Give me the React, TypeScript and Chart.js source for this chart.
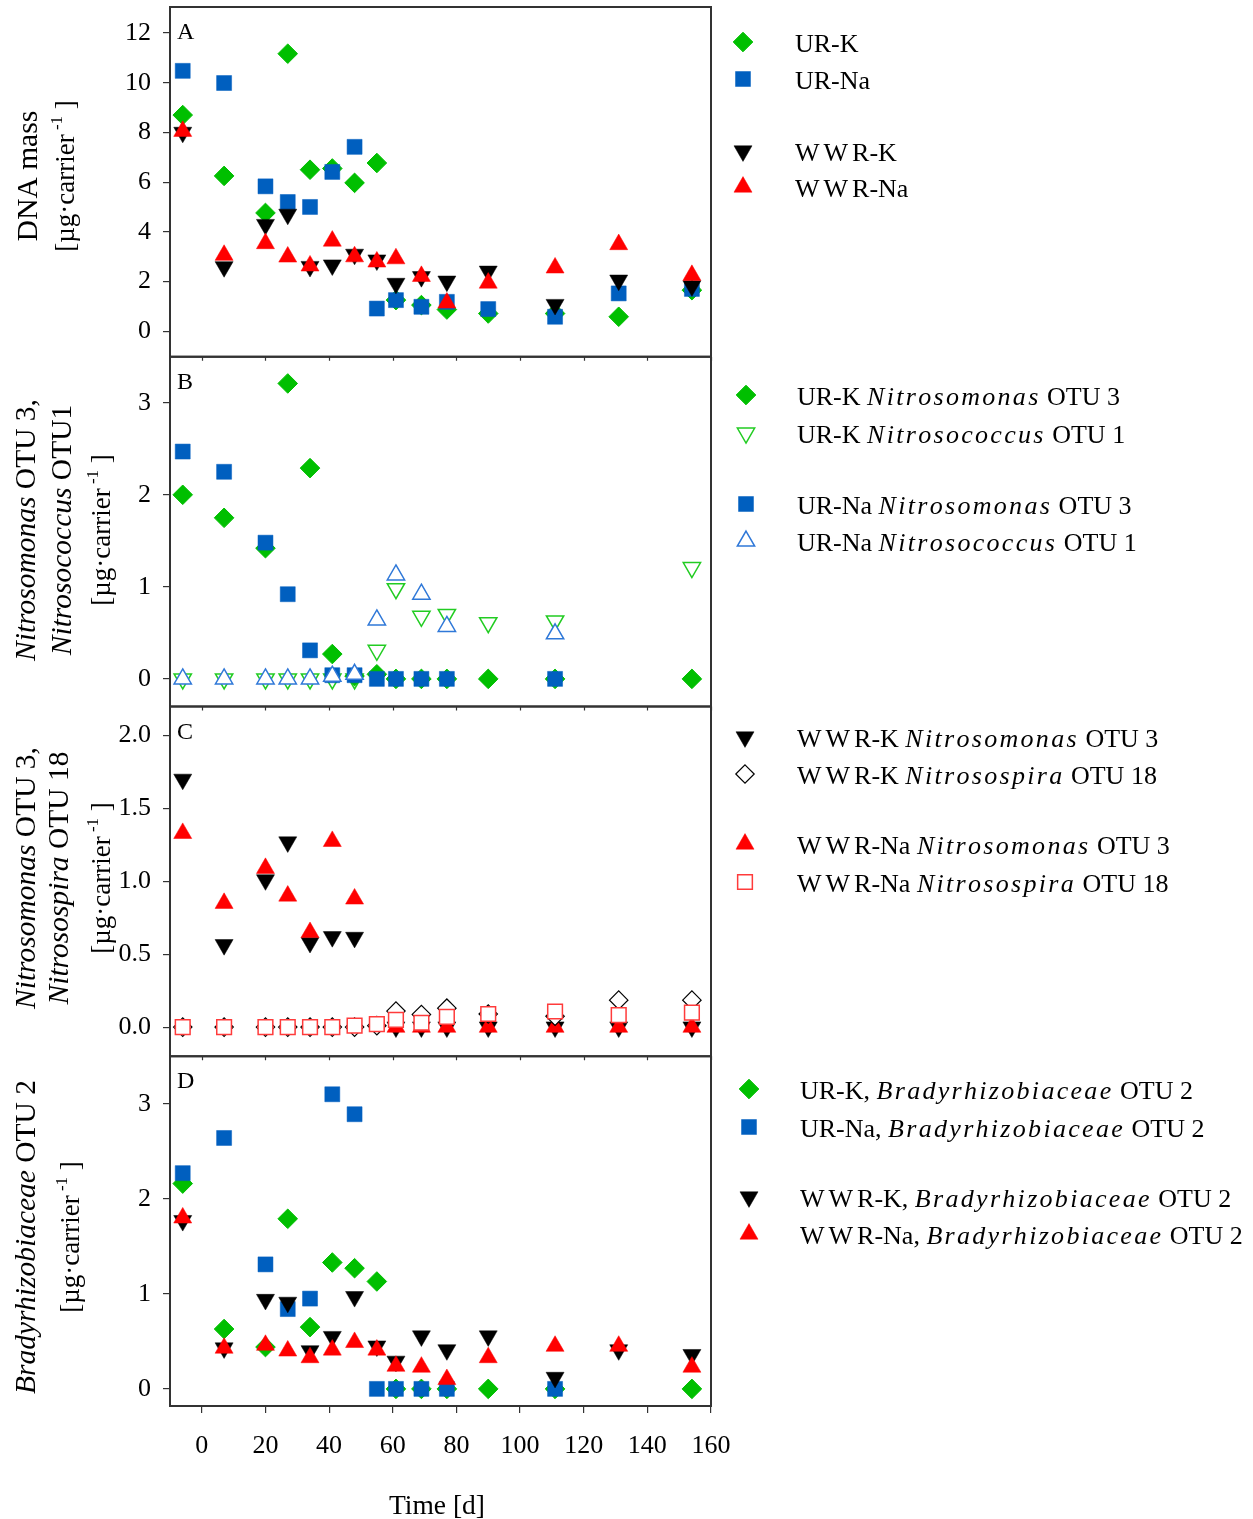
import React, { useEffect, useRef } from 'react';
import { Chart, registerables } from 'chart.js';

Chart.register(...registerables);

const W = 1253;
const H = 1519;
const FONT = '"Liberation Serif", "Times New Roman", Times, serif';
const AXIS = '#333333';
const GREEN = '#00bf00';
const BLUE = '#005fbf';
const RED = '#ff0000';
const BLACK = '#000000';
const LGREEN = '#22cc22';
const LBLUE = '#2f78d8';
const LRED = '#ff3b3b';

// ---------- data ----------
const X_TICKS = [0, 20, 40, 60, 80, 100, 120, 140, 160];
const DAYS = [-6, 7, 20, 27, 34, 41, 48, 55, 61, 69, 77, 90, 111, 131, 154];

// Panel A: DNA mass
const A_UR_K = [8.7, 6.25, 4.76, 11.17, 6.5, 6.55, 5.97, 6.77, 1.25, 1.05, 0.87, 0.71, 0.71, 0.58, 1.65];
const A_UR_NA = [10.48, 9.99, 5.83, 5.2, 5.0, 6.41, 7.42, 0.91, 1.25, 0.98, 1.18, 0.89, 0.58, 1.52, 1.7];
const A_WWR_K = [8.0, 2.59, 4.29, 4.7, 2.6, 2.66, 3.09, 2.86, 1.92, 2.19, 2.01, 2.41, 1.07, 2.05, 1.82];
const A_WWR_NA = [8.05, 3.06, 3.53, 2.99, 2.63, 3.63, 3.0, 2.79, 2.92, 2.21, 1.14, 1.94, 2.55, 3.49, 2.25];

// Panel B: UR Nitrosomonas OTU 3 / Nitrosococcus OTU 1
const B_UR_K_NSM = [2.0, 1.75, 1.42, 3.21, 2.29, 0.27, 0.03, 0.05, 0, 0, 0, 0, 0, null, 0];
const B_UR_NA_NSM = [2.47, 2.25, 1.48, 0.92, 0.31, 0.04, 0.04, 0, 0, 0, 0, null, 0, null, null];
const B_UR_K_NCC = [0, 0, 0, 0, 0, 0, 0, 0.31, 0.98, 0.68, 0.7, 0.61, 0.63, null, 1.21];
const B_UR_NA_NCC = [0, 0, 0, 0, 0, 0.03, 0.05, 0.64, 1.13, 0.92, 0.57, null, 0.49, null, null];

// Panel C: WWR Nitrosomonas OTU 3 / Nitrosospira OTU 18
const C_WWR_K_NSM = [1.7, 0.565, 1.01, 1.27, 0.58, 0.62, 0.615, null, 0, 0, 0, 0, 0, 0, 0];
const C_WWR_NA_NSM = [1.33, 0.85, 1.09, 0.9, 0.65, 1.275, 0.88, null, 0, 0, 0, 0, 0, 0, 0];
const C_WWR_K_NSP = [0, 0, 0, 0, 0, 0, 0, 0.01, 0.11, 0.087, 0.13, 0.09, 0.075, 0.185, 0.185];
const C_WWR_NA_NSP = [0, 0, 0, 0, 0, 0, 0.01, 0.02, 0.05, 0.03, 0.07, 0.09, 0.107, 0.082, 0.1];

// Panel D: Bradyrhizobiaceae OTU 2
const D_UR_K = [2.16, 0.63, 0.44, 1.79, 0.65, 1.33, 1.27, 1.13, 0, 0, 0, 0, 0, null, 0];
const D_UR_NA = [2.27, 2.64, 1.31, 0.84, 0.95, 3.1, 2.89, 0, 0, 0, 0, null, 0, null, null];
const D_WWR_K = [1.77, 0.43, 0.94, 0.91, 0.4, 0.55, 0.97, 0.45, 0.29, 0.556, 0.41, 0.556, 0.12, 0.41, 0.36];
const D_WWR_NA = [1.8, 0.43, 0.46, 0.4, 0.33, 0.41, 0.49, 0.41, 0.24, 0.23, 0.1, 0.33, 0.45, 0.45, 0.23];

const A_TICKS = [0, 2, 4, 6, 8, 10, 12];
const A_TICK_LABELS = ['0', '2', '4', '6', '8', '10', '12'];
const B_TICKS = [0, 1, 2, 3];
const B_TICK_LABELS = ['0', '1', '2', '3'];
const C_TICKS = [0, 0.5, 1, 1.5, 2];
const C_TICK_LABELS = ['0.0', '0.5', '1.0', '1.5', '2.0'];
const D_TICKS = [0, 1, 2, 3];
const D_TICK_LABELS = ['0', '1', '2', '3'];

type Seg = { t: string; i?: boolean; sup?: boolean; ls?: number };

const IT = 2.3; // extra spacing of italic taxon names in the legend
const UNIT: Seg[] = [{ t: '[µg·carrier' }, { t: ' -1', sup: true }, { t: ' ]' }];
const TITLE_A: Seg[][] = [[{ t: 'DNA mass' }], UNIT];
const TITLE_B: Seg[][] = [
  [{ t: 'Nitrosomonas', i: true }, { t: ' OTU 3,' }],
  [{ t: 'Nitrosococcus', i: true }, { t: ' OTU1' }],
  UNIT,
];
const TITLE_C: Seg[][] = [
  [{ t: 'Nitrosomonas', i: true }, { t: ' OTU 3,' }],
  [{ t: 'Nitrosospira', i: true }, { t: ' OTU 18' }],
  UNIT,
];
const TITLE_D: Seg[][] = [[{ t: 'Bradyrhizobiaceae', i: true }, { t: ' OTU 2' }], UNIT];

const LEG_A: Seg[][] = [
  [{ t: 'UR-K' }],
  [{ t: 'UR-Na' }],
  [{ t: 'WW', ls: 4 }, { t: 'R-K' }],
  [{ t: 'WW', ls: 4 }, { t: 'R-Na' }],
];
const LEG_B: Seg[][] = [
  [{ t: 'UR-K ' }, { t: 'Nitrosomonas', i: true, ls: IT }, { t: ' OTU 3' }],
  [{ t: 'UR-K ' }, { t: 'Nitrosococcus', i: true, ls: IT }, { t: ' OTU 1' }],
  [{ t: 'UR-Na ' }, { t: 'Nitrosomonas', i: true, ls: IT }, { t: ' OTU 3' }],
  [{ t: 'UR-Na ' }, { t: 'Nitrosococcus', i: true, ls: IT }, { t: ' OTU 1' }],
];
const LEG_C: Seg[][] = [
  [{ t: 'WW', ls: 4 }, { t: 'R-K ' }, { t: 'Nitrosomonas', i: true, ls: IT }, { t: ' OTU 3' }],
  [{ t: 'WW', ls: 4 }, { t: 'R-K ' }, { t: 'Nitrosospira', i: true, ls: IT }, { t: ' OTU 18' }],
  [{ t: 'WW', ls: 4 }, { t: 'R-Na ' }, { t: 'Nitrosomonas', i: true, ls: IT }, { t: ' OTU 3' }],
  [{ t: 'WW', ls: 4 }, { t: 'R-Na ' }, { t: 'Nitrosospira', i: true, ls: IT }, { t: ' OTU 18' }],
];
const LEG_D: Seg[][] = [
  [{ t: 'UR-K, ' }, { t: 'Bradyrhizobiaceae', i: true, ls: IT }, { t: ' OTU 2' }],
  [{ t: 'UR-Na, ' }, { t: 'Bradyrhizobiaceae', i: true, ls: IT }, { t: ' OTU 2' }],
  [{ t: 'WW', ls: 4 }, { t: 'R-K, ' }, { t: 'Bradyrhizobiaceae', i: true, ls: IT }, { t: ' OTU 2' }],
  [{ t: 'WW', ls: 4 }, { t: 'R-Na, ' }, { t: 'Bradyrhizobiaceae', i: true, ls: IT }, { t: ' OTU 2' }],
];

// ---------- styles ----------
type Sty = { shape: string; rot?: number; r: number; fill: string; stroke: string; bw: number };
const S_GD: Sty = { shape: 'rectRot', r: 9.8, fill: GREEN, stroke: GREEN, bw: 1 };
const S_BS: Sty = { shape: 'rect', r: 10.6, fill: BLUE, stroke: BLUE, bw: 0.5 };
const S_KD: Sty = { shape: 'triangle', rot: 180, r: 10.4, fill: BLACK, stroke: BLACK, bw: 0.5 };
const S_RU: Sty = { shape: 'triangle', r: 10.4, fill: RED, stroke: RED, bw: 0.5 };
const S_GOD: Sty = { shape: 'triangle', rot: 180, r: 10, fill: '#ffffff', stroke: LGREEN, bw: 1.5 };
const S_BOU: Sty = { shape: 'triangle', r: 10, fill: '#ffffff', stroke: LBLUE, bw: 1.5 };
const S_KOD: Sty = { shape: 'rectRot', r: 9.2, fill: '#ffffff', stroke: BLACK, bw: 1.2 };
const S_ROS: Sty = { shape: 'rect', r: 10.4, fill: '#ffffff', stroke: LRED, bw: 1.5 };

function pts(vals: (number | null)[]) {
  const out: { x: number; y: number }[] = [];
  DAYS.forEach((d, i) => {
    const v = vals[i];
    if (v !== null && v !== undefined) out.push({ x: d, y: v });
  });
  return out;
}

function ds(label: string, vals: (number | null)[], yAxisID: string, s: Sty, order: number) {
  return {
    label,
    data: pts(vals),
    xAxisID: 'x',
    yAxisID,
    order,
    clip: false,
    showLine: false,
    pointStyle: s.shape,
    pointRotation: s.rot || 0,
    pointRadius: s.r,
    pointHoverRadius: s.r,
    pointBackgroundColor: s.fill,
    pointBorderColor: s.stroke,
    pointBorderWidth: s.bw,
    pointHoverBorderWidth: s.bw,
  };
}

const TICK_FONT = { family: FONT, size: 26 };

function makeY(min: number, max: number, ticks: number[], labels: string[], weight: number) {
  return {
    type: 'linear',
    position: 'left',
    stack: 'panels',
    stackWeight: 1,
    weight,
    min,
    max,
    afterBuildTicks: (s: any) => {
      s.ticks = ticks.map((v) => ({ value: v }));
    },
    afterFit: (s: any) => {
      s.width = 100;
      s.paddingTop = 0;
      s.paddingBottom = 0;
    },
    ticks: {
      callback: (_v: any, i: number) => labels[i] ?? '',
      font: TICK_FONT,
      color: '#000',
      padding: 12,
      autoSkip: false,
    },
    grid: { drawOnChartArea: false, drawTicks: true, tickLength: 7, color: AXIS, lineWidth: 1.2 },
    border: { display: true, color: AXIS, width: 2 },
  };
}

function segFont(s: Seg, size: number) {
  const sz = s.sup ? Math.round(size * 0.62) : size;
  return `${s.i ? 'italic ' : ''}${sz}px ${FONT}`;
}

function segWidth(ctx: CanvasRenderingContext2D, s: Seg, size: number) {
  ctx.font = segFont(s, size);
  if (!s.ls) return ctx.measureText(s.t).width;
  let w = 0;
  for (const ch of s.t) w += ctx.measureText(ch).width + s.ls;
  return w;
}

function drawRich(ctx: CanvasRenderingContext2D, segs: Seg[], x: number, yc: number, size: number, center: boolean) {
  let total = 0;
  for (const s of segs) total += segWidth(ctx, s, size);
  let cx = center ? x - total / 2 : x;
  const base = yc + size * 0.33;
  ctx.textAlign = 'left';
  ctx.textBaseline = 'alphabetic';
  for (const s of segs) {
    ctx.font = segFont(s, size);
    const y = s.sup ? base - size * 0.45 : base;
    if (!s.ls) {
      ctx.fillText(s.t, cx, y);
      cx += ctx.measureText(s.t).width;
    } else {
      for (const ch of s.t) {
        ctx.fillText(ch, cx, y);
        cx += ctx.measureText(ch).width + s.ls;
      }
    }
  }
}

function drawMarker(ctx: CanvasRenderingContext2D, s: Sty, x: number, y: number) {
  ctx.save();
  ctx.beginPath();
  const r = s.r;
  if (s.shape === 'rectRot') {
    ctx.moveTo(x, y - r);
    ctx.lineTo(x + r, y);
    ctx.lineTo(x, y + r);
    ctx.lineTo(x - r, y);
  } else if (s.shape === 'rect') {
    const h = r * Math.SQRT1_2;
    ctx.rect(x - h, y - h, 2 * h, 2 * h);
  } else {
    const sgn = s.rot ? -1 : 1;
    ctx.moveTo(x, y - sgn * r);
    ctx.lineTo(x + r * 0.866, y + sgn * r * 0.5);
    ctx.lineTo(x - r * 0.866, y + sgn * r * 0.5);
  }
  ctx.closePath();
  ctx.fillStyle = s.fill;
  ctx.fill();
  ctx.lineWidth = s.bw;
  ctx.strokeStyle = s.stroke;
  ctx.stroke();
  ctx.restore();
}

const PANELS = [
  { id: 'yA', letter: 'A', titles: TITLE_A, titleX: [27, 65], titleY: 176, legend: LEG_A,
    styles: [S_GD, S_BS, S_KD, S_RU], mx: 743, tx: 795, ly: [43, 80, 152, 188] },
  { id: 'yB', letter: 'B', titles: TITLE_B, titleX: [25, 61, 101], titleY: 530, legend: LEG_B,
    styles: [S_GD, S_GOD, S_BS, S_BOU], mx: 746, tx: 797, ly: [396, 434, 505, 542] },
  { id: 'yC', letter: 'C', titles: TITLE_C, titleX: [25, 58, 101], titleY: 878, legend: LEG_C,
    styles: [S_KD, S_KOD, S_RU, S_ROS], mx: 745, tx: 797, ly: [738, 775, 845, 883] },
  { id: 'yD', letter: 'D', titles: TITLE_D, titleX: [25, 70], titleY: 1237, legend: LEG_D,
    styles: [S_GD, S_BS, S_KD, S_RU], mx: 749, tx: 800, ly: [1090, 1128, 1198, 1235] },
];

const decor = {
  id: 'decor',
  beforeDatasetsDraw(chart: any) {
    const ctx: CanvasRenderingContext2D = chart.ctx;
    const xs = chart.scales.x;
    ctx.save();
    ctx.strokeStyle = AXIS;
    PANELS.forEach((p, idx) => {
      const ys = chart.scales[p.id];
      ctx.lineWidth = 2;
      ctx.strokeRect(xs.left, ys.top, xs.right - xs.left, ys.bottom - ys.top);
      if (idx < 3) {
        ctx.lineWidth = 1.2;
        for (const v of X_TICKS) {
          const px = Math.round(xs.getPixelForValue(v)) + 0.5;
          ctx.beginPath();
          ctx.moveTo(px, ys.bottom);
          ctx.lineTo(px, ys.bottom + 4);
          ctx.stroke();
        }
      }
    });
    ctx.restore();
  },
  afterDraw(chart: any) {
    const ctx: CanvasRenderingContext2D = chart.ctx;
    const xs = chart.scales.x;
    ctx.save();
    ctx.fillStyle = '#000';
    PANELS.forEach((p) => {
      const ys = chart.scales[p.id];
      ctx.font = `24px ${FONT}`;
      ctx.textAlign = 'left';
      ctx.textBaseline = 'alphabetic';
      ctx.fillText(p.letter, xs.left + 7, ys.top + 32);
      p.titles.forEach((segs, i) => {
        const isUnit = i === p.titles.length - 1;
        ctx.save();
        ctx.translate(p.titleX[i], p.titleY);
        ctx.rotate(-Math.PI / 2);
        ctx.fillStyle = '#000';
        drawRich(ctx, segs, 0, 0, isUnit ? 27 : 29.5, true);
        ctx.restore();
      });
      p.legend.forEach((segs, i) => {
        drawMarker(ctx, p.styles[i], p.mx, p.ly[i] - 1);
        ctx.fillStyle = '#000';
        drawRich(ctx, segs, p.tx, p.ly[i], 26, false);
      });
    });
    drawRich(ctx, [{ t: 'Time [d]' }], 437, 1505, 27.5, true);
    ctx.restore();
  },
};

export default function App() {
  const ref = useRef<HTMLCanvasElement>(null);
  useEffect(() => {
    const canvas = ref.current;
    if (!canvas) return;
    const config: any = {
      type: 'scatter',
      data: {
        datasets: [
          ds('UR-K', A_UR_K, 'yA', S_GD, 3),
          ds('UR-Na', A_UR_NA, 'yA', S_BS, 2),
          ds('WWR-K', A_WWR_K, 'yA', S_KD, 1),
          ds('WWR-Na', A_WWR_NA, 'yA', S_RU, 0),
          ds('UR-K Nitrosococcus OTU 1', B_UR_K_NCC, 'yB', S_GOD, 4),
          ds('UR-K Nitrosomonas OTU 3', B_UR_K_NSM, 'yB', S_GD, 3),
          ds('UR-Na Nitrosomonas OTU 3', B_UR_NA_NSM, 'yB', S_BS, 2),
          ds('UR-Na Nitrosococcus OTU 1', B_UR_NA_NCC, 'yB', S_BOU, 1),
          ds('WWR-K Nitrosomonas OTU 3', C_WWR_K_NSM, 'yC', S_KD, 3),
          ds('WWR-Na Nitrosomonas OTU 3', C_WWR_NA_NSM, 'yC', S_RU, 2),
          ds('WWR-K Nitrosospira OTU 18', C_WWR_K_NSP, 'yC', S_KOD, 1),
          ds('WWR-Na Nitrosospira OTU 18', C_WWR_NA_NSP, 'yC', S_ROS, 0),
          ds('UR-K, Bradyrhizobiaceae OTU 2', D_UR_K, 'yD', S_GD, 3),
          ds('UR-Na, Bradyrhizobiaceae OTU 2', D_UR_NA, 'yD', S_BS, 2),
          ds('WWR-K, Bradyrhizobiaceae OTU 2', D_WWR_K, 'yD', S_KD, 1),
          ds('WWR-Na, Bradyrhizobiaceae OTU 2', D_WWR_NA, 'yD', S_RU, 0),
        ],
      },
      options: {
        responsive: false,
        animation: false,
        devicePixelRatio: 1,
        events: [],
        layout: { autoPadding: false, padding: { left: 70, right: 542, top: 7, bottom: 53 } },
        plugins: { legend: { display: false }, tooltip: { enabled: false }, title: { display: false } },
        scales: {
          x: {
            type: 'linear',
            position: 'bottom',
            min: -10,
            max: 160,
            afterBuildTicks: (s: any) => {
              s.ticks = X_TICKS.map((v) => ({ value: v }));
            },
            afterFit: (s: any) => {
              s.height = 60;
              s.paddingLeft = 0;
              s.paddingRight = 0;
            },
            ticks: {
              font: TICK_FONT,
              color: '#000',
              padding: 18,
              maxRotation: 0,
              autoSkip: false,
            },
            grid: { drawOnChartArea: false, drawTicks: true, tickLength: 7, color: AXIS, lineWidth: 1.2 },
            border: { display: true, color: AXIS, width: 2 },
          },
          yD: makeY(-0.18, 3.5, D_TICKS, D_TICK_LABELS, 1),
          yC: makeY(-0.2, 2.2, C_TICKS, C_TICK_LABELS, 2),
          yB: makeY(-0.3, 3.5, B_TICKS, B_TICK_LABELS, 3),
          yA: makeY(-1.03, 13.05, A_TICKS, A_TICK_LABELS, 4),
        },
      },
      plugins: [decor],
    };
    const chart = new Chart(canvas, config);
    return () => chart.destroy();
  }, []);
  return (
    <canvas
      ref={ref}
      width={W}
      height={H}
      style={{ position: 'absolute', left: 0, top: 0, width: W, height: H, display: 'block', background: '#fff' }}
    />
  );
}
